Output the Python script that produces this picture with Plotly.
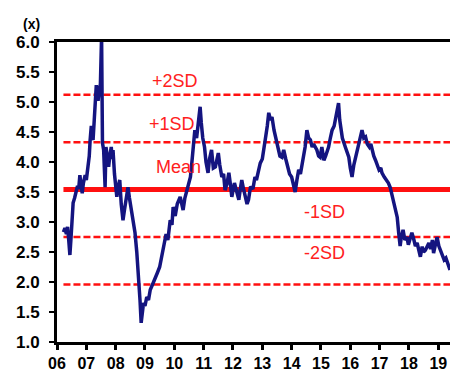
import plotly.graph_objects as go

# ---- data ----
years = [2006.22,2006.27,2006.32,2006.36,2006.40,2006.44,2006.48,2006.52,2006.55,2006.60,2006.66,2006.70,2006.74,2006.78,2006.82,2006.86,2006.90,2006.96,
2007.00,2007.05,2007.10,2007.13,2007.17,2007.20,2007.23,2007.27,2007.30,2007.34,2007.37,2007.40,2007.44,2007.48,2007.52,2007.55,2007.59,2007.64,2007.67,2007.72,2007.76,2007.80,2007.85,2007.88,2007.91,2007.96,
2008.04,2008.09,2008.14,2008.19,2008.25,2008.30,2008.36,2008.42,2008.47,2008.52,2008.58,2008.66,2008.72,2008.78,2008.83,2008.87,2008.91,2008.95,
2009.00,2009.06,2009.12,2009.18,2009.25,2009.34,2009.42,2009.50,2009.58,2009.66,2009.72,2009.78,2009.86,2009.92,2009.96,
2010.03,2010.10,2010.20,2010.30,2010.36,2010.43,2010.50,2010.55,2010.60,2010.64,2010.70,2010.76,2010.82,2010.88,2010.92,2010.97,
2011.03,2011.08,2011.15,2011.20,2011.27,2011.33,2011.40,2011.50,2011.55,2011.62,2011.68,2011.73,2011.80,2011.86,2011.92,2011.96,
2012.05,2012.13,2012.20,2012.25,2012.30,2012.36,2012.42,2012.48,2012.53,2012.60,2012.68,2012.75,2012.80,2012.87,2012.93,
2013.00,2013.06,2013.10,2013.17,2013.22,2013.28,2013.33,2013.40,2013.46,2013.53,2013.60,2013.67,2013.73,2013.80,2013.86,2013.93,
2014.00,2014.06,2014.12,2014.18,2014.24,2014.30,2014.36,2014.42,2014.46,2014.52,2014.58,2014.64,2014.70,2014.75,2014.80,2014.86,2014.92,2014.97,
2015.03,2015.10,2015.16,2015.26,2015.32,2015.38,2015.45,2015.50,2015.56,2015.60,2015.64,2015.68,2015.73,2015.83,2015.90,2015.95,
2016.00,2016.06,2016.12,2016.18,2016.24,2016.30,2016.36,2016.40,2016.46,2016.52,2016.58,2016.65,2016.70,2016.74,2016.80,2016.86,2016.92,2016.98,
2017.04,2017.08,2017.16,2017.24,2017.30,2017.36,2017.42,2017.48,2017.54,2017.60,2017.65,2017.70,2017.74,2017.80,2017.86,2017.93,2017.98,
2018.04,2018.10,2018.16,2018.22,2018.28,2018.34,2018.39,2018.45,2018.50,2018.56,2018.62,2018.68,2018.74,2018.80,2018.84,2018.90,2018.96,
2019.02,2019.08,2019.14,2019.20,2019.26,2019.32,2019.40]

multiple = [2.83,2.90,2.80,2.92,2.70,2.45,2.75,2.98,3.32,3.40,3.50,3.60,3.55,3.78,3.62,3.48,3.65,3.78,
3.70,3.92,4.10,4.37,4.60,4.40,4.37,4.70,5.02,5.28,5.10,5.02,5.20,5.30,6.10,4.32,4.20,3.58,4.25,4.00,3.92,4.10,4.25,4.05,4.20,3.80,
3.42,3.60,3.70,3.30,3.03,3.20,3.40,3.58,3.40,3.25,3.05,2.82,2.50,2.15,1.70,1.32,1.55,1.65,
1.60,1.75,1.70,1.87,1.95,2.08,2.15,2.25,2.45,2.60,2.80,2.70,3.03,2.95,3.25,
3.10,3.30,3.42,3.20,3.40,3.53,3.70,3.75,4.00,4.25,4.53,4.40,4.70,4.92,4.65,4.40,
4.25,4.00,3.82,4.05,4.20,3.90,3.92,4.15,3.95,3.75,3.80,3.53,3.65,3.82,3.60,3.42,
3.65,3.50,3.37,3.55,3.70,3.55,3.42,3.30,3.37,3.59,3.55,3.75,3.70,3.87,3.98,
4.05,4.20,4.37,4.60,4.82,4.70,4.75,4.53,4.40,4.20,4.10,4.08,4.20,4.05,3.92,3.80,
3.75,3.60,3.50,3.70,3.87,3.80,3.98,4.10,4.25,4.53,4.40,4.37,4.25,4.30,4.25,4.20,4.10,4.08,
4.25,4.03,4.10,4.25,4.40,4.53,4.60,4.75,4.85,4.98,4.70,4.55,4.40,4.25,4.15,4.08,
3.90,3.75,3.95,4.08,4.20,4.32,4.45,4.53,4.40,4.42,4.30,4.25,4.30,4.20,4.10,4.03,3.95,3.87,
3.90,3.82,3.75,3.70,3.65,3.58,3.45,3.37,3.20,3.08,2.82,2.60,2.75,2.87,2.70,2.75,2.62,
2.70,2.82,2.72,2.60,2.65,2.52,2.42,2.59,2.50,2.53,2.60,2.65,2.55,2.70,2.48,2.62,2.75,
2.60,2.53,2.45,2.37,2.40,2.30,2.20]

band_labels = ["+2SD", "+1SD", "Mean", "-1SD", "-2SD"]
band_values = [5.12, 4.33, 3.54, 2.75, 1.96]

tick_years = list(range(2006, 2020))
tick_labels = ["06","07","08","09","10","11","12","13","14","15","16","17","18","19"]
y_ticks = [1.0,1.5,2.0,2.5,3.0,3.5,4.0,4.5,5.0,5.5,6.0]

fig = go.Figure()

# band lines
x_end = 2019.6
for lab, v in zip(band_labels, band_values):
    if lab == "Mean":
        fig.add_trace(go.Scatter(x=[years[0], x_end], y=[v, v], mode="lines",
                                 line=dict(color="#ff1010", width=5), hoverinfo="skip"))
    else:
        fig.add_trace(go.Scatter(x=[years[0], x_end], y=[v, v], mode="lines",
                                 line=dict(color="#ff1010", width=2.5, dash="7px,3px"), hoverinfo="skip"))

fig.add_trace(go.Scatter(x=years, y=multiple, mode="lines",
                         line=dict(color="#141480", width=3.5)))

label_pos = {"+2SD": (2010.03, 5.35), "+1SD": (2009.92, 4.63), "Mean": (2010.13, 3.92),
             "-1SD": (2015.11, 3.17), "-2SD": (2015.11, 2.48)}
for lab in band_labels:
    x, y = label_pos[lab]
    fig.add_annotation(x=x, y=y, text=lab, showarrow=False, xanchor="center", yanchor="middle",
                       font=dict(family="Liberation Sans, Arial", size=18, color="#ff2020"))

fig.add_annotation(xref="paper", yref="paper", x=-0.066, y=1.06, text="(x)", showarrow=False,
                   xanchor="center", yanchor="middle",
                   font=dict(family="Liberation Sans, Arial", size=14, color="black", weight="bold"))

ytickfont = dict(family="Liberation Sans, Arial", size=17, color="black", weight="bold")
xtickfont = dict(family="Liberation Sans, Arial", size=16, color="black", weight="bold")
fig.update_layout(
    width=450, height=373,
    margin=dict(l=57, r=0, t=42, b=31, autoexpand=False),
    paper_bgcolor="white", plot_bgcolor="white",
    showlegend=False,
    xaxis=dict(range=[2006, 2019.4], tickvals=tick_years, ticktext=tick_labels, automargin=False,
               showgrid=False, zeroline=False, showline=True, linecolor="black", linewidth=3,
               mirror=True, ticks="outside", ticklen=5, tickwidth=3, tickcolor="black",
               ticklabelstandoff=0, tickfont=xtickfont),
    yaxis=dict(range=[1, 6], tickvals=y_ticks, ticktext=[f"{v:.1f}" for v in y_ticks], automargin=False,
               showgrid=False, zeroline=False, showline=True, linecolor="black", linewidth=3,
               ticks="outside", ticklen=5, tickwidth=2, tickcolor="black",
               ticklabelstandoff=6, tickfont=ytickfont),
)

fig.write_html("out.html", config={"displayModeBar": False},
               post_script="document.body.style.margin='0px';document.body.style.overflow='hidden';")
